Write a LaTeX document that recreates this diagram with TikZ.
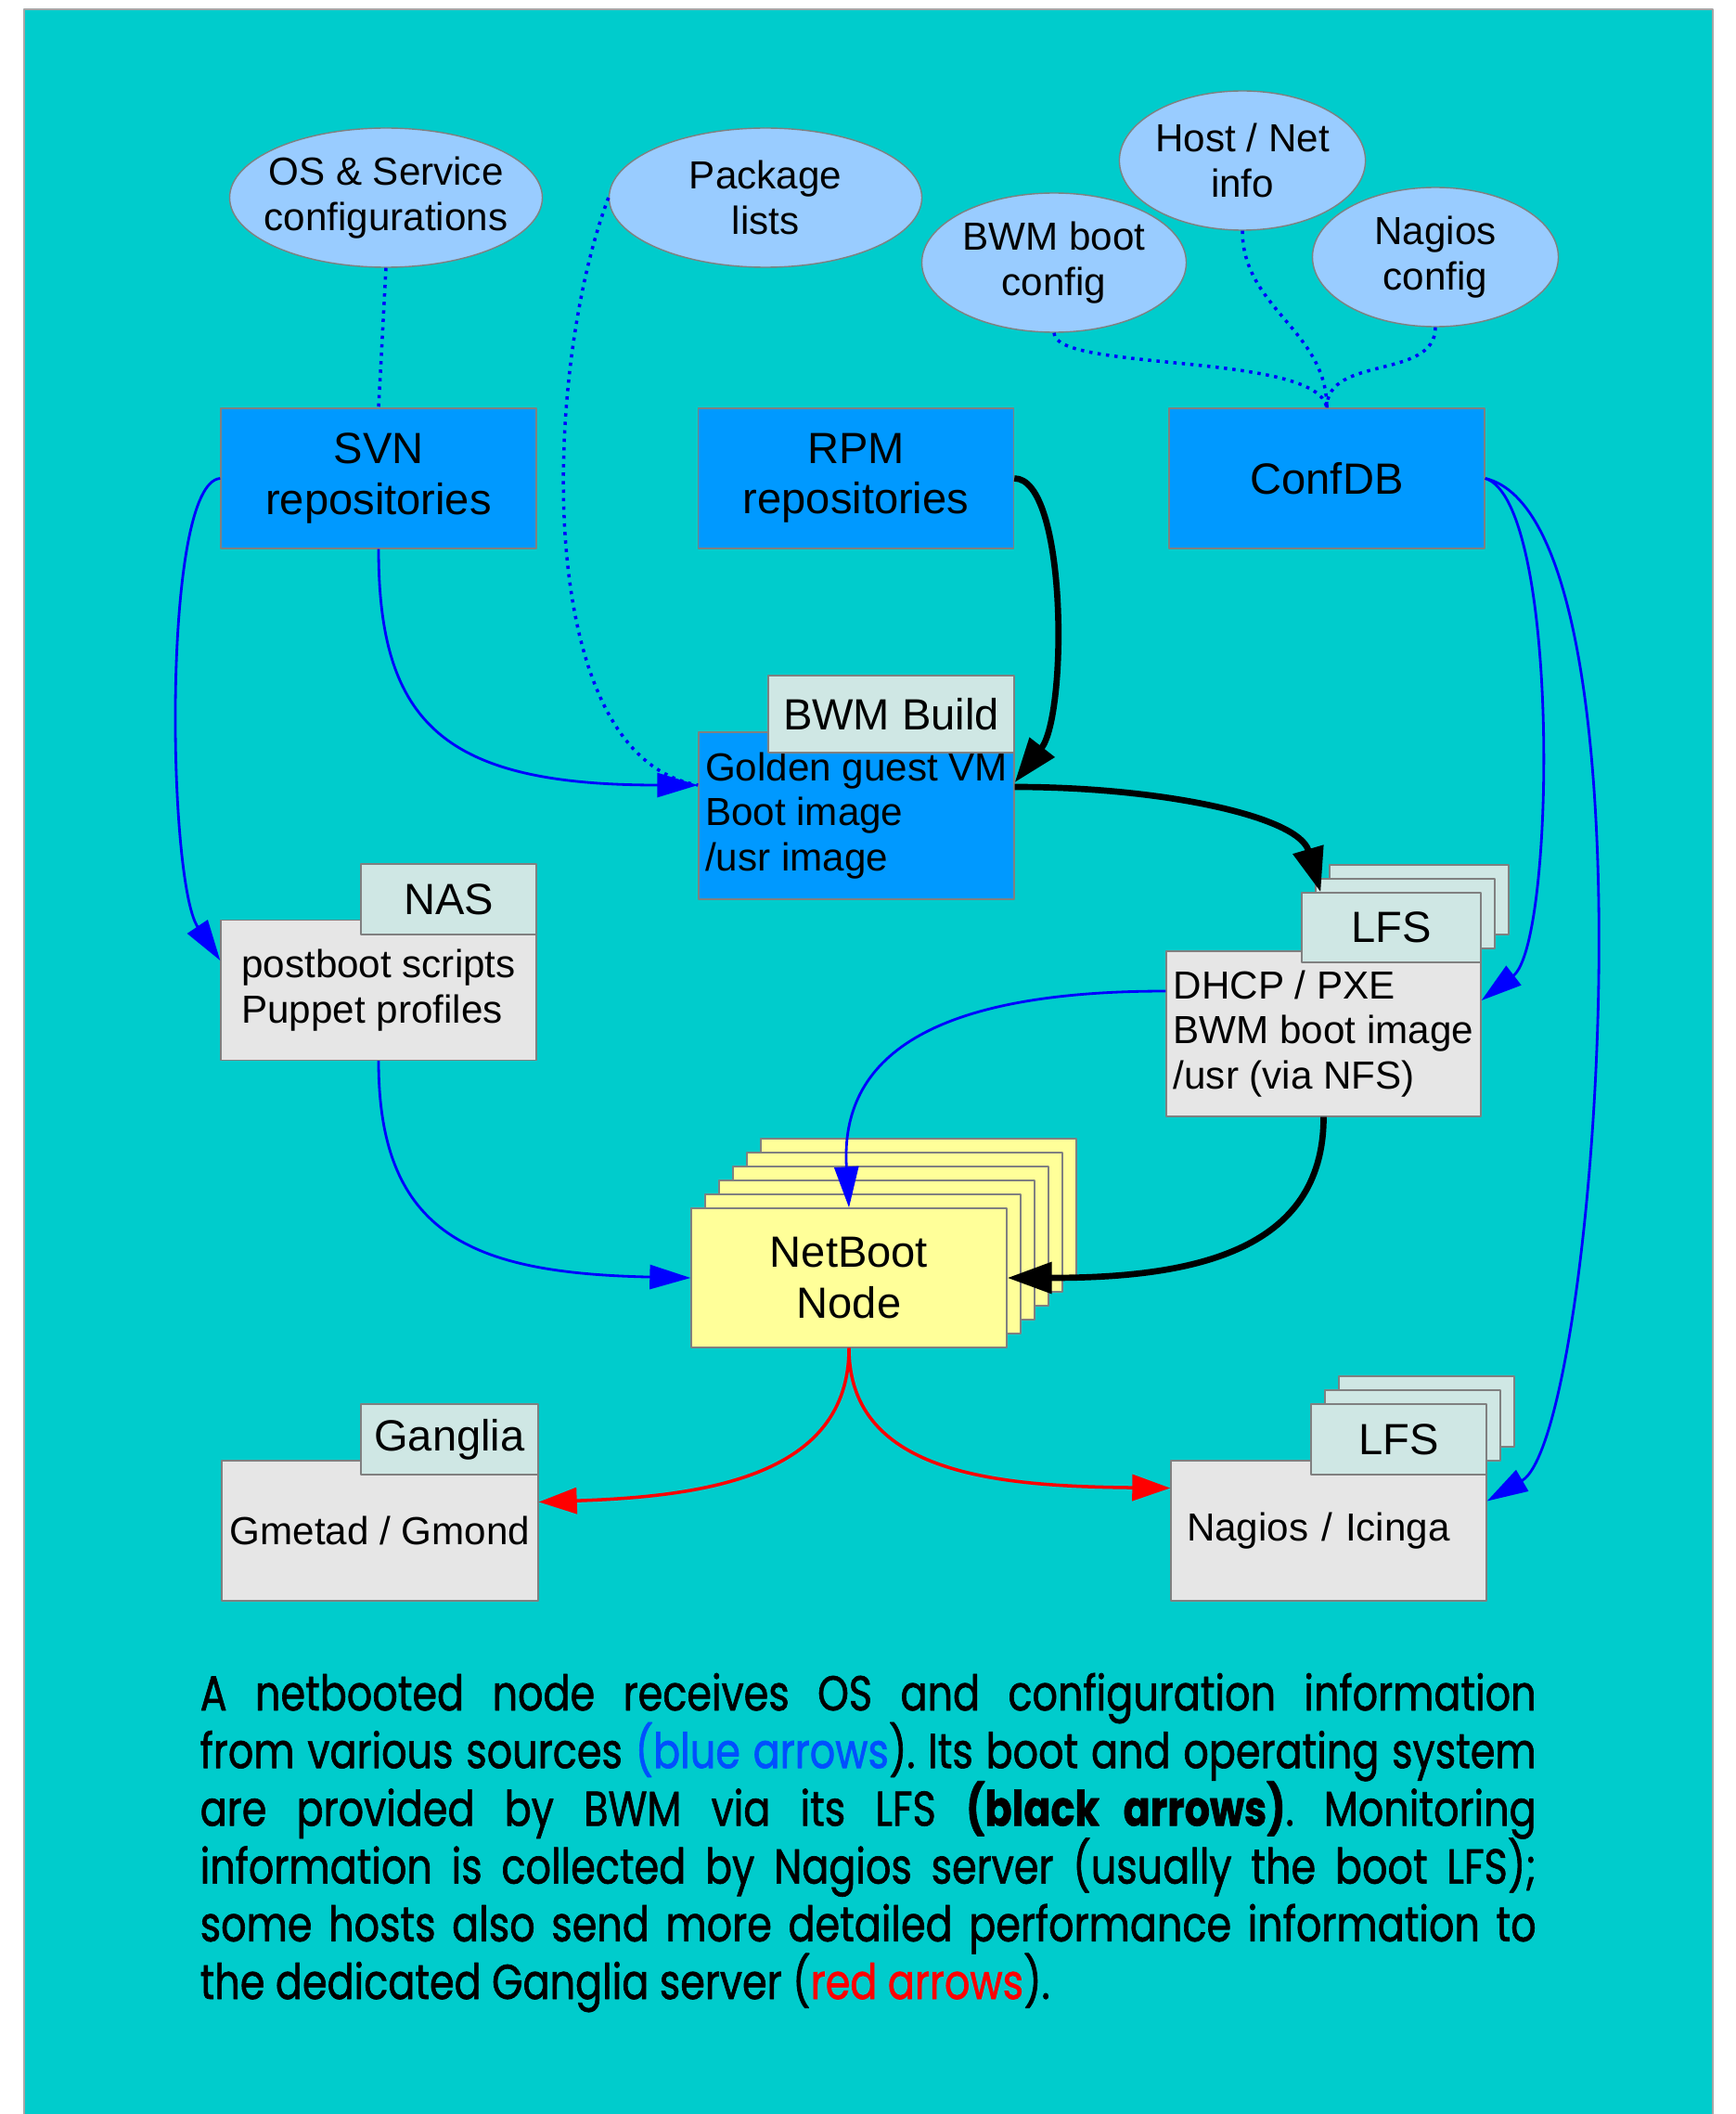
\documentclass[tikz,border=0pt]{standalone}
\usepackage{fontspec}
\setmainfont{Liberation Sans}
\newfontfamily\capfont[FakeStretch=0.815,FakeBold=1.2]{Poppins}
\usetikzlibrary{arrows.meta,shapes.geometric}
\setlength{\lineskiplimit}{-20pt}
\setlength{\normallineskiplimit}{-20pt}

\definecolor{sea}{RGB}{0,204,204}
\definecolor{edge}{RGB}{128,128,128}
\definecolor{skyfill}{RGB}{153,204,255}
\definecolor{repofill}{RGB}{0,153,255}
\definecolor{tabfill}{RGB}{207,231,228}
\definecolor{storefill}{RGB}{230,230,230}
\definecolor{cardfill}{RGB}{255,255,153}
\definecolor{capblue}{RGB}{0,80,255}

\begin{document}
\begin{tikzpicture}[line join=round,
    big/.style={font=\fontsize{13.4}{15.4}\selectfont},
    small/.style={font=\fontsize{12}{13.8}\selectfont},
    cloud/.style={ellipse, draw=edge, fill=skyfill, small, align=center, inner sep=0pt, minimum height=1.50cm},
    repo/.style={rectangle, draw=edge, fill=repofill, big, align=center, minimum width=3.40cm, minimum height=1.51cm},
    store/.style={rectangle, draw=edge, fill=storefill, small, align=left, inner xsep=0.03cm, minimum width=3.40cm, minimum height=1.51cm},
    tab/.style={rectangle, draw=edge, fill=tabfill, big, inner xsep=2pt, minimum height=0.76cm},
    card/.style={rectangle, draw=edge, fill=cardfill, minimum width=3.40cm, minimum height=1.50cm},
    cfgdots/.style={blue, line width=1pt, line cap=butt, dash pattern=on 1pt off 1.6pt},
    blueflow/.style={blue, line width=0.8pt, -{Triangle[length=4.4mm,width=2.6mm]}},
    bootflow/.style={black, line width=1.9pt, -{Triangle[length=4.8mm,width=3.3mm]}},
    monflow/.style={red, line width=1pt, -{Triangle[length=4.1mm,width=2.8mm]}}]
  \useasboundingbox (0,0) rectangle (18.70,-22.78);
  \fill[sea] (0.26,-0.10) rectangle (18.46,-22.78);
  \draw[edge!70, line width=0.4pt] (0.26,-22.78) -- (0.26,-0.10) -- (18.46,-0.10) -- (18.46,-22.78);

  % configuration sources
  \node[cloud, minimum width=2.62cm] (hostinfo) at (13.39,-1.73) {Host / Net\\info};
  \node[cloud, minimum width=2.85cm] (bwmboot) at (11.36,-2.83) {BWM boot\\config};
  \node[cloud, minimum width=2.65cm] (nagcfg) at (15.47,-2.77) {Nagios\\config};
  \node[cloud, minimum width=3.37cm, inner xsep=-0.13cm] (osconf) at (4.16,-2.13) {OS \& Service\\configurations};
  \node[cloud, minimum width=3.37cm] (pkglists) at (8.25,-2.13) {Package\\lists};

  % repositories
  \node[repo] (svn) at (4.08,-5.155) {SVN\\repositories};
  \node[repo] (rpm) at (9.225,-5.155) {RPM\\repositories};
  \node[repo] (confdb) at (14.30,-5.155) {ConfDB};

  % build host
  \node[store, fill=repofill, minimum height=1.80cm] (golden) at (9.23,-8.79) {Golden guest VM\\Boot image\\/usr image};
  \node[tab, minimum width=2.65cm, minimum height=0.83cm] (buildtab) at (9.605,-7.695) {BWM Build};

  % NAS
  \node[store] (nas) at (4.08,-10.67) {postboot scripts\\Puppet profiles};
  \node[tab, minimum width=1.89cm] (nastab) at (4.835,-9.69) {NAS};

  % boot LFS
  \foreach \i in {2,1}
    \node[tab, minimum width=1.93cm, minimum height=0.75cm] (lfstab\i) at (14.995+0.15*\i,-9.995+0.15*\i) {};
  \node[store, minimum width=3.39cm, minimum height=1.78cm] (lfs) at (14.265,-11.14) {DHCP / PXE\\BWM boot image\\/usr (via NFS)};
  \node[tab, minimum width=1.93cm, minimum height=0.75cm] (lfstab) at (14.995,-9.995) {LFS};

  % netbooted nodes
  \foreach \i in {5,4,...,1}
    \node[card] (nb\i) at (9.15+0.15*\i,-13.77+0.15*\i) {};
  \node[card, big, align=center] (netboot) at (9.15,-13.77) {NetBoot\\Node};

  % monitoring
  \node[store, minimum width=3.41cm] (gmetad) at (4.095,-16.495) {Gmetad / Gmond};
  \node[tab, minimum width=1.91cm] (gangliatab) at (4.845,-15.51) {Ganglia};
  \node[store, inner xsep=0.17cm, text width=3.06cm] (monitor) at (14.32,-16.495) {Nagios / Icinga};
  \foreach \i in {2,1}
    \node[tab, minimum width=1.89cm] (montab\i) at (15.075+0.15*\i,-15.51+0.15*\i) {};
  \node[tab, minimum width=1.89cm] (montab) at (15.075,-15.51) {LFS};

  % dotted: sources into repositories
  \draw[cfgdots] (osconf.south) -- (svn.north);
  \draw[cfgdots] (pkglists.west) .. controls (5.85,-4.00) and (5.72,-8.15) .. ([yshift=3.3mm]golden.west);
  \draw[cfgdots] (bwmboot.south) .. controls +(0,-0.42) and +(-0.10,0.60) .. (confdb.north);
  \draw[cfgdots] (hostinfo.south) .. controls +(0,-0.83) and +(0,0.83) .. (confdb.north);
  \draw[cfgdots] (nagcfg.south) .. controls +(0,-0.57) and +(0,0.57) .. (confdb.north);

  % blue: configuration
  \draw[blueflow] (svn.south) .. controls +(0,-1.89) and +(-2.73,0) .. ([yshift=3.3mm]golden.west);
  \draw[blueflow] (svn.west) .. controls +(-0.63,-0.05) and +(-0.57,0.85) .. ([yshift=3.2mm]nas.west);
  \draw[blueflow] (nas.south) .. controls +(0,-1.88) and +(-2.35,0.05) .. (netboot.west);
  \draw[blueflow] ([yshift=4.6mm]lfs.west) .. controls +(-2.54,0) and +(-0.10,1.62) .. (netboot.north);
  \draw[blueflow] (confdb.east) .. controls +(0.81,-0.25) and +(0.80,0.62) .. ([yshift=3.6mm]lfs.east);
  \draw[blueflow] (confdb.east) .. controls +(1.91,-0.45) and +(1.20,0.70) .. ([yshift=3.2mm]monitor.east);

  % black: boot and OS
  \draw[bootflow] (rpm.east) .. controls +(0.57,0) and +(0.57,0.73) .. ([yshift=3.6mm]golden.east);
  \draw[bootflow] ([yshift=3.1mm]golden.east) .. controls +(1.57,0) and +(-0.24,0.82) .. ([xshift=2.1mm]lfstab.north west);
  \draw[bootflow] (lfs.south) .. controls +(0,-1.47) and +(1.95,0) .. (netboot.east);

  % red: monitoring
  \draw[monflow] (netboot.south) .. controls +(0,-1.38) and +(1.80,0.06) .. ([yshift=3.1mm]gmetad.east);
  \draw[monflow] (netboot.south) .. controls +(0,-1.38) and +(-1.80,0.02) .. ([yshift=4.6mm]monitor.west);

  \node[anchor=north west, inner sep=0pt, text width=14.40cm, align=justify,
        font=\capfont\fontsize{15}{17.7}\selectfont\frenchspacing] (caption) at (2.15,-18.02)
    {A netbooted node receives OS and configuration information\linebreak
     from various sources {\color{capblue}(blue arrows}). Its boot and operating system\linebreak
     are provided by BWM via its LFS \textbf{(black arrows)}. Monitoring\linebreak
     information is collected by Nagios server (usually the boot LFS);\linebreak
     some hosts also send more detailed performance information to\linebreak
     the dedicated Ganglia server ({\color{red}red arrows}).\par};
\end{tikzpicture}
\end{document}
